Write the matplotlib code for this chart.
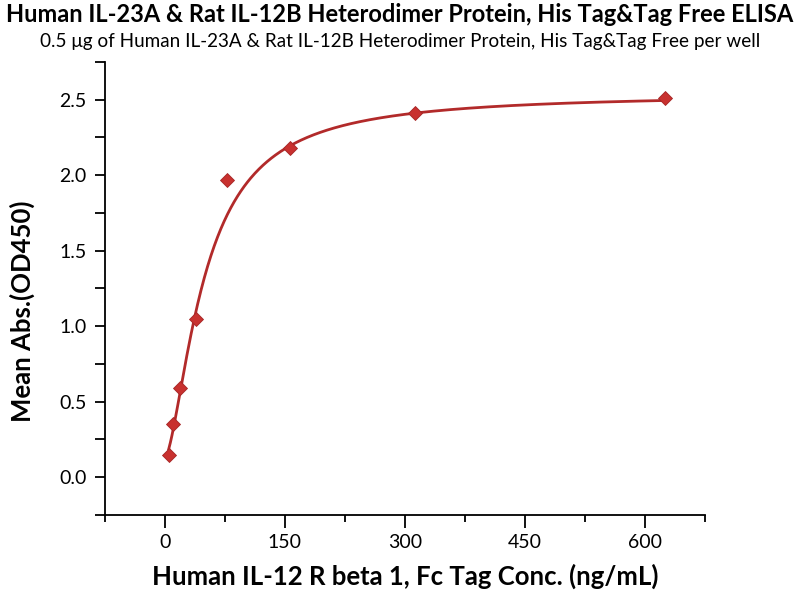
import numpy as np
import matplotlib
matplotlib.use("Agg")
import matplotlib.pyplot as plt
from matplotlib.ticker import MultipleLocator

plt.rcParams['font.family'] = ['Lato', 'DejaVu Sans']

# measured points (ng/mL vs OD450)
conc = [4.88, 9.77, 19.53, 39.06, 78.13, 156.25, 312.5, 625.0]
od450 = [0.15, 0.35, 0.59, 1.05, 1.97, 2.18, 2.41, 2.51]

# 4PL fit parameters
fit_bottom = 0.125
fit_top = 2.54
fit_ec50 = 50.0
fit_hill = 1.57

title = "Human IL-23A & Rat IL-12B Heterodimer Protein, His Tag&Tag Free ELISA"
subtitle = "0.5 \u03bcg of Human IL-23A & Rat IL-12B Heterodimer Protein, His Tag&Tag Free per well"
xlabel = "Human IL-12 R beta 1, Fc Tag Conc. (ng/mL)"
ylabel = "Mean Abs.(OD450)"

xs = np.linspace(min(conc), max(conc), 600)
ys = fit_top + (fit_bottom - fit_top) / (1 + (xs / fit_ec50) ** fit_hill)

fig = plt.figure(figsize=(8, 6), dpi=100)
ax = fig.add_axes([0.131, 0.1417, 0.75, 0.755])

ax.plot(xs, ys, color='#B22A2A', lw=2)
ax.plot(conc, od450, 'D', color='#C8312F', markersize=7, markeredgecolor='#A52525', markeredgewidth=0.6)

ax.set_xlim(-75, 675)
ax.set_ylim(-0.25, 2.75)
ax.set_xticks(np.arange(0, 601, 150))
ax.xaxis.set_minor_locator(MultipleLocator(75))
ax.set_yticks(np.arange(0, 2.51, 0.5))
ax.yaxis.set_minor_locator(MultipleLocator(0.25))
ax.set_yticklabels([f"{v:.1f}" for v in np.arange(0, 2.51, 0.5)])

for s in ['top', 'right']:
    ax.spines[s].set_visible(False)
for s in ['left', 'bottom']:
    ax.spines[s].set_linewidth(1.3)
ax.tick_params(axis='x', which='major', direction='out', length=9, width=1.3, labelsize=14, pad=5)
ax.tick_params(axis='x', which='minor', direction='out', length=5, width=1.3)
ax.tick_params(axis='y', which='both', direction='out', length=7, width=1.3, labelsize=14, pad=6)

ax.set_xlabel(xlabel, fontsize=18.5, fontweight='bold', labelpad=9)
ax.set_ylabel(ylabel, fontsize=18.5, fontweight='bold')
ax.yaxis.set_label_coords(-0.117, 0.45)

fig.text(0.5, 0.975, title, ha='center', va='center', fontsize=17, fontweight='bold')
fig.text(0.5, 0.93, subtitle, ha='center', va='center', fontsize=13.6)

fig.savefig("out.png", dpi=100)
